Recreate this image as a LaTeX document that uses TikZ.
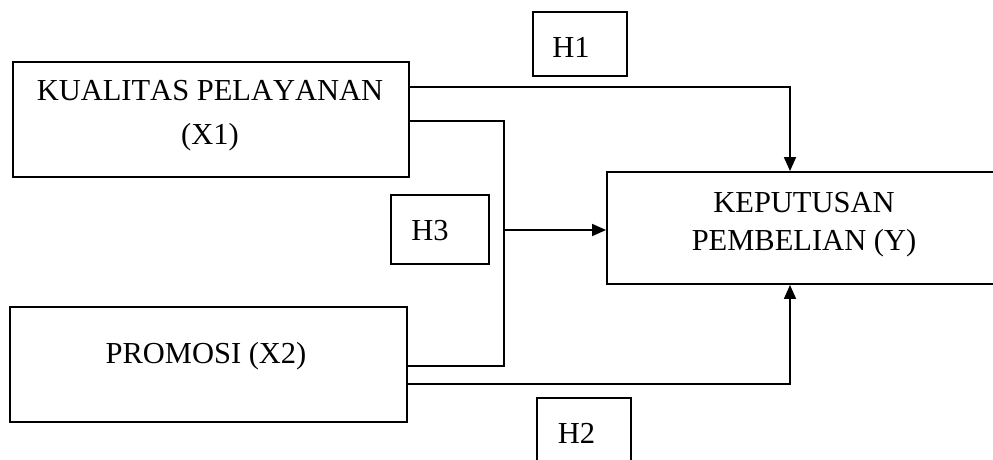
\documentclass[tikz,border=0pt]{standalone}
\usepackage{fontspec}
\setmainfont{Liberation Serif}[Kerning=Off]
\usetikzlibrary{arrows.meta,calc}
\begin{document}
\begin{tikzpicture}[x=1pt,y=-1pt,
  box/.style={draw, rectangle, line width=1.9pt, inner sep=0pt},
  lbl/.style={anchor=base, inner sep=0pt, font=\fontsize{30.5}{36}\selectfont},
  conn/.style={line width=1.8pt, line join=miter},
  arr/.style={conn, -{Triangle[length=14pt,width=12pt]}}]
\useasboundingbox (0,0) rectangle (993,459);
% boxes
\node[box, minimum width=396pt, minimum height=115pt] (x1) at (211,119.5) {};
\node[box, minimum width=397pt, minimum height=115pt] (x2) at (208.5,364.5) {};
\node[box, minimum width=394pt, minimum height=112pt] (y) at (804,228) {};
\node[box, minimum width=94pt, minimum height=64pt] (h1) at (580,44) {};
\node[box, minimum width=98pt, minimum height=69pt] (h3) at (440,229.5) {};
\node[box, minimum width=94pt, minimum height=64pt] (h2) at (584,430) {};
% texts
\node[lbl] (x1a) at (210,100) {KUALITAS PELAYANAN};
\node[lbl] (x1b) at (210,144) {(X1)};
\node[lbl] (x2t) at (206,363) {PROMOSI (X2)};
\node[lbl] (ya) at (804,212) {KEPUTUSAN};
\node[lbl] (yb) at (804,250) {PEMBELIAN (Y)};
\node[lbl] (h1t) at (571,57) {H1};
\node[lbl] (h3t) at (430,240) {H3};
\node[lbl] (h2t) at (576.5,443) {H2};
% connectors
\coordinate (j) at (504,230);
\draw[arr] ([yshift=-26pt]x1.north east) -| ([xshift=-14pt]y.north);
\draw[arr] ([yshift=39pt]x2.south east) -| ([xshift=-14pt]y.south);
\draw[conn] ([yshift=-60pt]x1.north east) -| (j) |- ([yshift=-60pt]x2.north east);
\draw[arr] (j) -- (j -| y.west);
\end{tikzpicture}
\end{document}
